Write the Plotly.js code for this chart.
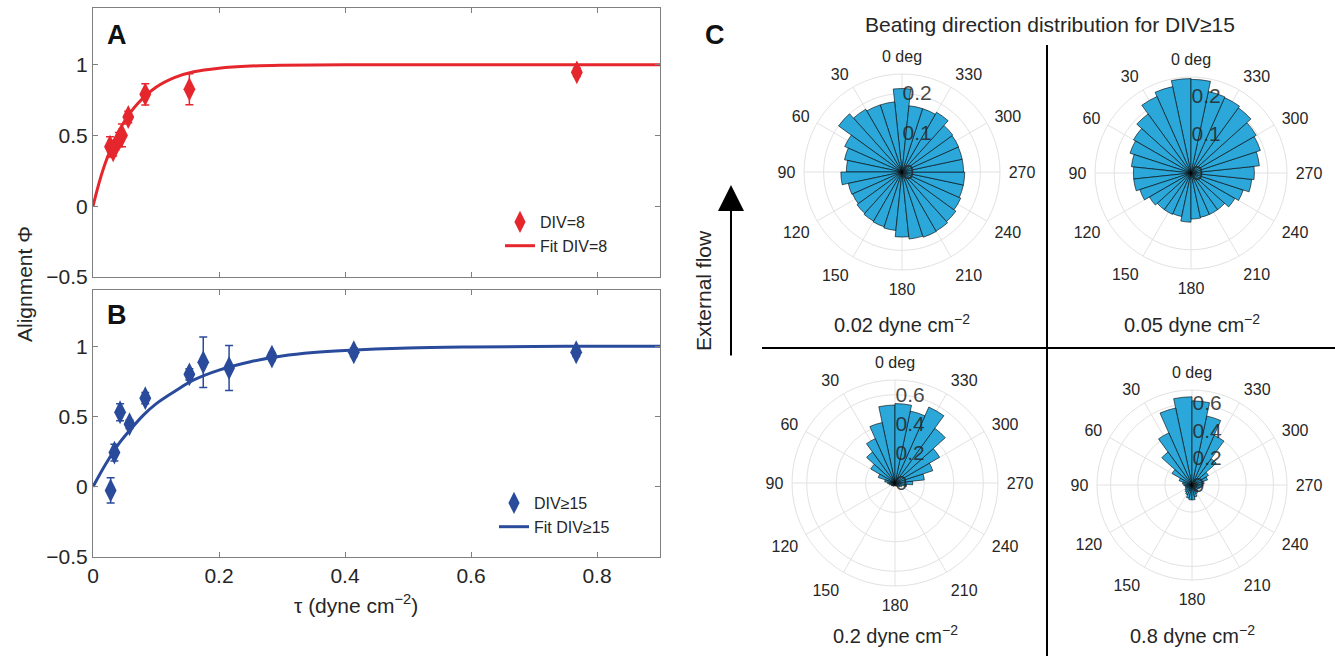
<!DOCTYPE html>
<html>
<head>
<meta charset="utf-8">
<script src="https://cdn.plot.ly/plotly-3.0.1.min.js"></script>
<style>html,body{margin:0;padding:0;background:#fff;}#chart{width:1335px;height:656px;}</style>
</head>
<body>
<div id="chart"></div>
<script>
// ---------- Data: panel A (DIV=8) ----------
const tauA = [0.027, 0.032, 0.041, 0.046, 0.056, 0.083, 0.153, 0.768];
const phiA = [0.42, 0.395, 0.47, 0.50, 0.63, 0.79, 0.826, 0.946];
const errA = [0.07, 0.04, 0.05, 0.08, 0.04, 0.075, 0.11, 0.03];
const fitTauA = [0, 0.01, 0.02, 0.03, 0.04, 0.05, 0.07, 0.1, 0.13, 0.16, 0.2, 0.25, 0.3, 0.4, 0.6, 0.9];
const fitPhiA = [0, 0.17, 0.31, 0.42, 0.52, 0.60, 0.72, 0.84, 0.91, 0.95, 0.975, 0.99, 0.996, 1.0, 1.0, 1.0];

// ---------- Data: panel B (DIV>=15) ----------
const tauB = [0.028, 0.034, 0.043, 0.058, 0.083, 0.153, 0.175, 0.216, 0.284, 0.414, 0.767];
const phiB = [-0.026, 0.243, 0.53, 0.445, 0.63, 0.80, 0.886, 0.845, 0.926, 0.957, 0.957];
const errB = [0.09, 0.06, 0.06, 0.03, 0.04, 0.04, 0.18, 0.16, 0.03, 0.03, 0.03];
const fitTauB = [0, 0.02, 0.04, 0.06, 0.08, 0.1, 0.13, 0.16, 0.2, 0.25, 0.3, 0.35, 0.4, 0.5, 0.6, 0.75, 0.9];
const fitPhiB = [0, 0.16, 0.30, 0.41, 0.51, 0.59, 0.68, 0.76, 0.83, 0.89, 0.93, 0.955, 0.97, 0.988, 0.995, 0.999, 1.0];

// ---------- Data: panel C (polar histograms, 12-degree bins) ----------
const binsCentered = [0,12,24,36,48,60,72,84,96,108,120,132,144,156,168,180,192,204,216,228,240,252,264,276,288,300,312,324,336,348];
const binsOffset = [6,18,30,42,54,66,78,90,102,114,126,138,150,162,174,186,198,210,222,234,246,258,270,282,294,306,318,330,342,354];
const prob002 = [0.213,0.18,0.18,0.185,0.20,0.16,0.15,0.142,0.156,0.14,0.138,0.142,0.145,0.147,0.15,0.166,0.172,0.175,0.174,0.17,0.164,0.16,0.16,0.157,0.157,0.158,0.16,0.176,0.17,0.17];
const prob005 = [0.246,0.23,0.218,0.19,0.173,0.167,0.156,0.15,0.15,0.14,0.125,0.118,0.118,0.116,0.128,0.12,0.118,0.118,0.118,0.132,0.143,0.159,0.165,0.179,0.19,0.196,0.21,0.215,0.217,0.244];
const prob02 = [0.53,0.42,0.33,0.26,0.19,0.12,0.07,0.05,0.04,0.03,0.03,0.025,0.025,0.02,0.02,0.02,0.02,0.025,0.03,0.04,0.05,0.08,0.12,0.2,0.27,0.35,0.46,0.565,0.5,0.54];
const prob08 = [0.65,0.58,0.42,0.30,0.17,0.10,0.07,0.06,0.05,0.05,0.06,0.07,0.08,0.10,0.11,0.11,0.09,0.07,0.06,0.05,0.06,0.07,0.08,0.09,0.12,0.14,0.24,0.40,0.52,0.62];

const angleTicks = [0,30,60,90,120,150,180,210,240,270,300,330];
const angleText = ['0 deg','30','60','90','120','150','180','210','240','270','300','330'];
const yTicks = [-0.5, 0, 0.5, 1];
const yTickText = ['\u22120.5', '0', '0.5', '1'];
const xTicks = [0, 0.2, 0.4, 0.6, 0.8];
const xTickText = ['0', '0.2', '0.4', '0.6', '0.8'];

// ---------- helpers ----------
const W = 1335, H = 656;
const px = x => x / W;
const py = y => 1 - y / H;
const RED = '#e5272d';
const BLUE = '#2a4b9b';
const BARC = '#2ba7d9';
const FONT = 'Liberation Sans, Arial, sans-serif';
const NARROW = 'Liberation Sans Narrow, Arial Narrow, Liberation Sans, sans-serif';
const TXT = '#262626';

const traces = [];
traces.push({
  x: tauA, y: phiA, type: 'scatter', mode: 'markers', name: 'DIV=8',
  marker: {symbol: 'diamond-tall', size: 17, color: RED},
  error_y: {type: 'data', array: errA, visible: true, color: RED, thickness: 1.5, width: 4},
  xaxis: 'x', yaxis: 'y', legend: 'legend'
});
traces.push({
  x: fitTauA, y: fitPhiA, type: 'scatter', mode: 'lines', name: 'Fit DIV=8',
  line: {color: RED, width: 3, shape: 'spline'}, xaxis: 'x', yaxis: 'y', legend: 'legend'
});
traces.push({
  x: tauB, y: phiB, type: 'scatter', mode: 'markers', name: 'DIV\u226515',
  marker: {symbol: 'diamond-tall', size: 17, color: BLUE},
  error_y: {type: 'data', array: errB, visible: true, color: BLUE, thickness: 1.5, width: 4},
  xaxis: 'x2', yaxis: 'y2', legend: 'legend2'
});
traces.push({
  x: fitTauB, y: fitPhiB, type: 'scatter', mode: 'lines', name: 'Fit DIV\u226515',
  line: {color: BLUE, width: 3, shape: 'spline'}, xaxis: 'x2', yaxis: 'y2', legend: 'legend2'
});

const polarSets = [
  {sub: 'polar', theta: binsCentered, r: prob002},
  {sub: 'polar2', theta: binsOffset, r: prob005},
  {sub: 'polar3', theta: binsOffset, r: prob02},
  {sub: 'polar4', theta: binsOffset, r: prob08}
];
polarSets.forEach(p => {
  traces.push({
    type: 'barpolar', r: p.r, theta: p.theta, width: p.theta.map(() => 12),
    subplot: p.sub, showlegend: false,
    marker: {color: BARC, line: {color: 'rgba(0,0,0,0.85)', width: 0.7}}
  });
});

function axisStyle(extra) {
  return Object.assign({
    showline: true, linecolor: '#7f7f7f', linewidth: 1, mirror: 'ticks',
    ticks: 'inside', ticklen: 5, tickcolor: '#7f7f7f', showgrid: false, zeroline: false,
    tickfont: {family: NARROW, size: 21, color: TXT}
  }, extra);
}

function polarStyle(cx, cy, r, rmax, rticks) {
  return {
    domain: {x: [px(cx - r), px(cx + r)], y: [py(cy + r), py(cy - r)]},
    bgcolor: '#ffffff',
    angularaxis: {
      rotation: 90, direction: 'counterclockwise', tickmode: 'array',
      tickvals: angleTicks, ticktext: angleText, ticks: 'outside', ticklen: 5, tickcolor: 'rgba(0,0,0,0)',
      showline: true, linecolor: '#e2e2e2', linewidth: 1,
      gridcolor: '#e2e2e2', gridwidth: 1,
      tickfont: {family: FONT, size: 16, color: TXT}
    },
    radialaxis: {
      range: [0, rmax], tickmode: 'array', tickvals: rticks, ticktext: rticks.map(String),
      showline: false, ticks: '', angle: 90, tickangle: 90, side: 'clockwise',
      gridcolor: '#e2e2e2', gridwidth: 1,
      tickfont: {family: FONT, size: 21, color: 'rgba(38,38,38,0.85)'}
    }
  };
}

function ann(text, x, y, size, extra) {
  return Object.assign({text: text, x: px(x), y: py(y), xref: 'paper', yref: 'paper',
    xanchor: 'center', yanchor: 'middle', showarrow: false,
    font: {family: FONT, size: size, color: TXT}}, extra || {});
}

const layout = {
  width: W, height: H,
  margin: {l: 0, r: 0, t: 0, b: 0},
  paper_bgcolor: '#ffffff', plot_bgcolor: '#ffffff',
  font: {family: FONT, color: TXT},
  xaxis: axisStyle({domain: [px(93), px(660)], range: [0, 0.9], tickmode: 'array', tickvals: xTicks, ticktext: xTickText, showticklabels: false, anchor: 'y'}),
  yaxis: axisStyle({domain: [py(277), py(8)], range: [-0.5, 1.4], tickmode: 'array', tickvals: yTicks, ticktext: yTickText, anchor: 'x'}),
  xaxis2: axisStyle({domain: [px(93), px(660)], range: [0, 0.9], tickmode: 'array', tickvals: xTicks, ticktext: xTickText, anchor: 'y2'}),
  yaxis2: axisStyle({domain: [py(557), py(290)], range: [-0.5, 1.4], tickmode: 'array', tickvals: yTicks, ticktext: yTickText, anchor: 'x2'}),
  legend: {x: px(500), y: py(205), xanchor: 'left', yanchor: 'top', bgcolor: 'rgba(0,0,0,0)', font: {family: NARROW, size: 16, color: TXT}, tracegroupgap: 0},
  legend2: {x: px(494), y: py(486), xanchor: 'left', yanchor: 'top', bgcolor: 'rgba(0,0,0,0)', font: {family: NARROW, size: 16, color: TXT}, tracegroupgap: 0},
  polar: polarStyle(902, 172, 98, 0.25, [0, 0.1, 0.2]),
  polar2: polarStyle(1191, 173, 96, 0.25, [0, 0.1, 0.2]),
  polar3: polarStyle(895, 483, 103, 0.7, [0, 0.2, 0.4, 0.6]),
  polar4: polarStyle(1192, 485, 95, 0.7, [0, 0.2, 0.4, 0.6]),
  shapes: [
    {type: 'line', xref: 'paper', yref: 'paper', x0: px(1047), x1: px(1047), y0: py(45), y1: py(656), line: {color: '#000', width: 2}},
    {type: 'line', xref: 'paper', yref: 'paper', x0: px(762), x1: px(1335), y0: py(348), y1: py(348), line: {color: '#000', width: 2}}
  ],
  annotations: [
    ann('<b>A</b>', 117, 35, 27, {font: {family: FONT, size: 27, color: '#111'}}),
    ann('<b>B</b>', 117, 315, 27, {font: {family: FONT, size: 27, color: '#111'}}),
    ann('<b>C</b>', 715, 35, 27, {font: {family: FONT, size: 27, color: '#111'}}),
    ann('Alignment \u03a6', 25, 284, 20, {textangle: -90, font: {family: NARROW, size: 21, color: TXT}}),
    ann('\u03c4 (dyne cm<sup>\u22122</sup>)', 356, 604, 20, {font: {family: NARROW, size: 21, color: TXT}}),
    ann('Beating direction distribution for DIV\u226515', 1050, 25, 21),
    ann('External flow', 703, 291, 21, {textangle: -90}),
    {text: '', x: px(731), y: py(185), ax: px(731), ay: py(357), xref: 'paper', yref: 'paper', axref: 'paper', ayref: 'paper', showarrow: true, arrowhead: 2, arrowsize: 2.6, arrowwidth: 2, arrowcolor: '#000'},
    ann('0.02 dyne cm<sup>\u22122</sup>', 902, 323, 20),
    ann('0.05 dyne cm<sup>\u22122</sup>', 1192, 323, 20),
    ann('0.2 dyne cm<sup>\u22122</sup>', 895, 634, 20),
    ann('0.8 dyne cm<sup>\u22122</sup>', 1192, 634, 20)
  ]
};

Plotly.newPlot('chart', traces, layout, {staticPlot: true, displayModeBar: false});
</script>
</body>
</html>
